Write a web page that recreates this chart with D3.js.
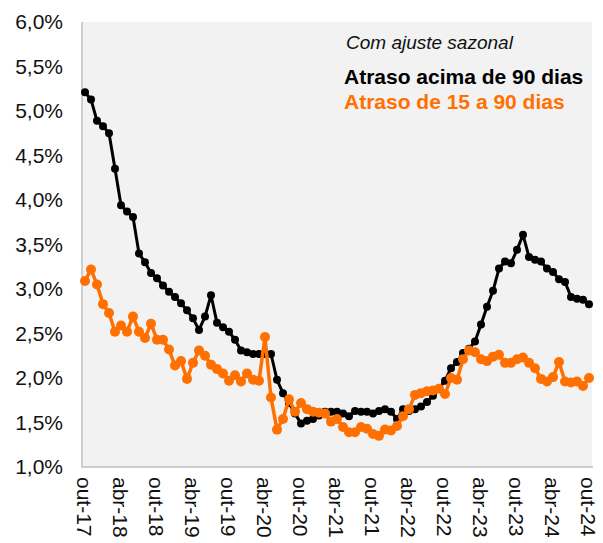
<!DOCTYPE html>
<html>
<head>
<meta charset="utf-8">
<script src="https://cdnjs.cloudflare.com/ajax/libs/d3/7.8.5/d3.min.js"></script>
<style>
  body { margin: 0; background: #fff; }
  svg { display: block; font-family: Arial, "Liberation Sans", sans-serif; }
</style>
</head>
<body>
<svg id="chart" width="603" height="543"></svg>
<script>
var width = 603;
var height = 543;

// months oct/2017 .. oct/2024
var months = [
  "out-17","nov-17","dez-17",
  "jan-18","fev-18","mar-18","abr-18","mai-18","jun-18","jul-18","ago-18","set-18","out-18","nov-18","dez-18",
  "jan-19","fev-19","mar-19","abr-19","mai-19","jun-19","jul-19","ago-19","set-19","out-19","nov-19","dez-19",
  "jan-20","fev-20","mar-20","abr-20","mai-20","jun-20","jul-20","ago-20","set-20","out-20","nov-20","dez-20",
  "jan-21","fev-21","mar-21","abr-21","mai-21","jun-21","jul-21","ago-21","set-21","out-21","nov-21","dez-21",
  "jan-22","fev-22","mar-22","abr-22","mai-22","jun-22","jul-22","ago-22","set-22","out-22","nov-22","dez-22",
  "jan-23","fev-23","mar-23","abr-23","mai-23","jun-23","jul-23","ago-23","set-23","out-23","nov-23","dez-23",
  "jan-24","fev-24","mar-24","abr-24","mai-24","jun-24","jul-24","ago-24","set-24","out-24"
];

var tickLabels = ["out-17","abr-18","out-18","abr-19","out-19","abr-20","out-20","abr-21",
  "out-21","abr-22","out-22","abr-23","out-23","abr-24","out-24"];

var yTicks = [1.0, 1.5, 2.0, 2.5, 3.0, 3.5, 4.0, 4.5, 5.0, 5.5, 6.0];

// atraso acima de 90 dias (%)
var acima90 = [
  5.21, 5.13, 4.89,
  4.83, 4.75, 4.35, 3.94, 3.87, 3.81, 3.40, 3.30, 3.18, 3.12, 3.04, 2.97,
  2.91, 2.84, 2.76, 2.67, 2.54, 2.69, 2.93, 2.62, 2.57, 2.52, 2.43, 2.31,
  2.29, 2.27, 2.27, 2.27, 2.27, 1.98, 1.83, 1.72, 1.60, 1.49, 1.52, 1.54,
  1.58, 1.62, 1.62, 1.62, 1.60, 1.57, 1.63, 1.62, 1.62, 1.60, 1.63, 1.65,
  1.62, 1.54, 1.65, 1.63, 1.65, 1.68, 1.73, 1.80, 1.88, 1.97, 2.11, 2.18,
  2.28, 2.33, 2.41, 2.60, 2.80, 2.98, 3.23, 3.31, 3.29, 3.44, 3.61, 3.36,
  3.33, 3.31, 3.23, 3.19, 3.11, 3.08, 2.91, 2.89, 2.88, 2.83
];

// atraso de 15 a 90 dias (%)
var de15a90 = [
  3.09, 3.22, 3.05,
  2.83, 2.73, 2.52, 2.59, 2.52, 2.69, 2.52, 2.45, 2.61, 2.43, 2.43, 2.32,
  2.14, 2.19, 1.99, 2.17, 2.31, 2.25, 2.15, 2.10, 2.05, 1.97, 2.03, 1.96,
  2.05, 1.98, 1.97, 2.46, 1.78, 1.42, 1.54, 1.76, 1.62, 1.72, 1.65, 1.62,
  1.61, 1.60, 1.51, 1.54, 1.45, 1.39, 1.39, 1.45, 1.43, 1.37, 1.35, 1.42,
  1.41, 1.46, 1.57, 1.65, 1.81, 1.83, 1.85, 1.86, 1.88, 1.82, 2.00, 1.98,
  2.21, 2.31, 2.29, 2.21, 2.19, 2.24, 2.26, 2.17, 2.17, 2.21, 2.23, 2.17,
  2.11, 1.99, 1.96, 2.01, 2.18, 1.96, 1.95, 1.96, 1.91, 2.00
];

var black = "#000000";
var orange = "#ff7000";

var plot = { left: 82, right: 592, top: 22, bottom: 467 };

var svg = d3.select("#chart");

var x = d3.scaleBand()
    .domain(months)
    .range([plot.left, plot.right])
    .padding(0);

var y = d3.scaleLinear()
    .domain([1, 6])
    .range([plot.bottom, plot.top]);

function cx(d, i) { return x(months[i]) + x.bandwidth() / 2; }

// plot background
svg.append("rect")
    .attr("x", plot.left)
    .attr("y", plot.top)
    .attr("width", plot.right - plot.left)
    .attr("height", plot.bottom - plot.top)
    .attr("fill", "#f2f2f2");

// axes
var fmt = function (v) { return d3.format(".1f")(v).replace(".", ",") + "%"; };

var yAxis = svg.append("g")
    .attr("transform", "translate(" + plot.left + ",0)")
    .call(d3.axisLeft(y).tickValues(yTicks).tickFormat(fmt).tickSize(0).tickPadding(19));
yAxis.select(".domain").remove();
yAxis.selectAll("text")
    .style("font-size", "21px")
    .style("fill", "#111");

var xAxis = svg.append("g")
    .attr("transform", "translate(0," + plot.bottom + ")")
    .call(d3.axisBottom(x).tickValues(tickLabels).tickSize(0));
xAxis.select(".domain").remove();
xAxis.selectAll("text")
    .attr("transform", "rotate(90)")
    .attr("x", 10)
    .attr("y", 0)
    .attr("dy", "0.36em")
    .style("text-anchor", "start")
    .style("font-size", "21px")
    .style("fill", "#111");

svg.append("line")
    .attr("x1", plot.left).attr("x2", plot.left)
    .attr("y1", plot.top).attr("y2", plot.bottom + 0.5)
    .attr("stroke", "#bfbfbf").attr("stroke-width", 1.5);
svg.append("line")
    .attr("x1", plot.left).attr("x2", plot.right + 1)
    .attr("y1", plot.bottom).attr("y2", plot.bottom)
    .attr("stroke", "#bfbfbf").attr("stroke-width", 1.5);

// series
var line = d3.line()
    .x(cx)
    .y(function (d) { return y(d); });

function drawSeries(values, color, lw, r) {
    var g = svg.append("g");
    g.append("path")
        .datum(values)
        .attr("d", line)
        .attr("fill", "none")
        .attr("stroke", color)
        .attr("stroke-width", lw)
        .attr("stroke-linejoin", "round");
    g.selectAll("circle")
        .data(values)
        .enter()
        .append("circle")
        .attr("cx", cx)
        .attr("cy", function (d) { return y(d); })
        .attr("r", r)
        .attr("fill", color);
}

drawSeries(acima90, black, 3, 4);
drawSeries(de15a90, orange, 3.5, 5);

// legend
svg.append("text")
    .attr("x", 346)
    .attr("y", 49)
    .style("font-size", "19px")
    .style("font-style", "italic")
    .style("fill", "#111")
    .text("Com ajuste sazonal");

svg.append("text")
    .attr("x", 344)
    .attr("y", 84)
    .style("font-size", "21px")
    .style("font-weight", "bold")
    .style("fill", black)
    .text("Atraso acima de 90 dias");

svg.append("text")
    .attr("x", 344)
    .attr("y", 109)
    .style("font-size", "21px")
    .style("font-weight", "bold")
    .style("fill", orange)
    .text("Atraso de 15 a 90 dias");
</script>
</body>
</html>
